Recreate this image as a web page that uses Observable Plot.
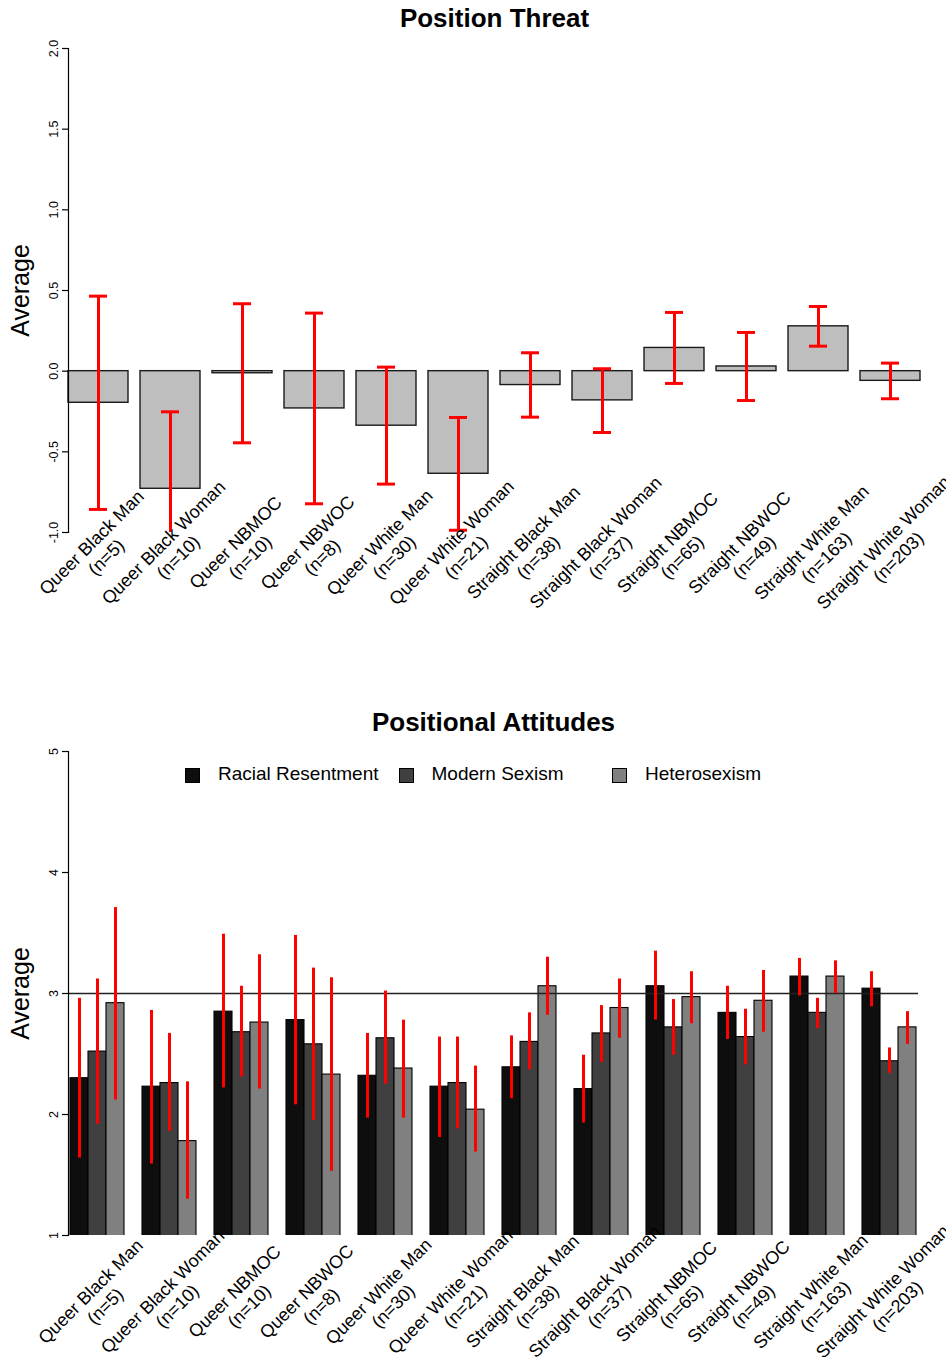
<!DOCTYPE html>
<html>
<head>
<meta charset="utf-8">
<script src="https://cdn.jsdelivr.net/npm/d3@7"></script>
<script src="https://cdn.jsdelivr.net/npm/@observablehq/plot@0.6"></script>
<style>
  html, body { margin: 0; padding: 0; background: #fff; }
  #page { position: relative; width: 946px; height: 1357px; overflow: hidden; background: #fff;
          font-family: "Liberation Sans", Arial, Helvetica, sans-serif; }
  .chart { position: absolute; left: 0; }
  .legend-item { position: absolute; height: 20px; }
  .legend-swatch { position: absolute; left: 0; top: 2px; width: 13px; height: 13px; border: 1.3px solid #000; }
  .legend-label { position: absolute; left: 33px; top: -2px; font-size: 19px; line-height: 19px; white-space: nowrap; color: #000; }
</style>
</head>
<body>
<div id="page">
  <div id="chart1" class="chart" style="top:0px"></div>
  <div id="chart2" class="chart" style="top:678px"></div>
  <div id="legend"></div>
</div>
<script>
// ---------- data ----------
const groups = ["Queer Black Man", "Queer Black Woman", "Queer NBMOC", "Queer NBWOC",
  "Queer White Man", "Queer White Woman", "Straight Black Man", "Straight Black Woman",
  "Straight NBMOC", "Straight NBWOC", "Straight White Man", "Straight White Woman"];
const groupN = [5, 10, 10, 8, 30, 21, 38, 37, 65, 49, 163, 203];

// Position Threat
const threatMean = [-0.196, -0.729, -0.013, -0.231, -0.338, -0.636, -0.086, -0.181, 0.144, 0.029, 0.278, -0.060];
const threatLow  = [-0.857, -1.206, -0.444, -0.822, -0.700, -0.986, -0.285, -0.380, -0.076, -0.182, 0.155, -0.171];
const threatHigh = [ 0.465, -0.252,  0.418,  0.360,  0.025, -0.287,  0.114,  0.015,  0.364,  0.240, 0.401,  0.050];
const threatTicks = [-1, -0.5, 0, 0.5, 1, 1.5, 2];

// Positional Attitudes
const seriesNames = ["Racial Resentment", "Modern Sexism", "Heterosexism"];
const seriesColors = ["#0e0e0e", "#404040", "#808080"];
const rrMean = [2.30, 2.23, 2.85, 2.78, 2.32, 2.23, 2.39, 2.21, 3.06, 2.84, 3.14, 3.04];
const rrLow  = [1.64, 1.59, 2.22, 2.08, 1.97, 1.81, 2.13, 1.93, 2.78, 2.62, 2.98, 2.89];
const rrHigh = [2.96, 2.86, 3.49, 3.48, 2.67, 2.64, 2.65, 2.49, 3.35, 3.06, 3.29, 3.18];
const msMean = [2.52, 2.26, 2.68, 2.58, 2.63, 2.26, 2.60, 2.67, 2.72, 2.64, 2.84, 2.44];
const msLow  = [1.92, 1.86, 2.31, 1.95, 2.25, 1.88, 2.37, 2.43, 2.49, 2.41, 2.71, 2.34];
const msHigh = [3.12, 2.67, 3.06, 3.21, 3.02, 2.64, 2.84, 2.90, 2.95, 2.87, 2.96, 2.55];
const hsMean = [2.92, 1.78, 2.76, 2.33, 2.38, 2.04, 3.06, 2.88, 2.97, 2.94, 3.14, 2.72];
const hsLow  = [2.12, 1.30, 2.21, 1.53, 1.97, 1.69, 2.82, 2.63, 2.75, 2.68, 3.00, 2.58];
const hsHigh = [3.71, 2.27, 3.32, 3.13, 2.78, 2.40, 3.30, 3.12, 3.18, 3.19, 3.27, 2.85];
const attitudeTicks = [1, 2, 3, 4, 5];
const referenceLine = [3];

// ---------- build tables ----------
const font = '"Liberation Sans", Arial, Helvetica, sans-serif';
const labelOf = (g, i) => `${g}\n(n=${groupN[i]})`;

const threat = groups.map((g, i) => ({
  group: g, label: labelOf(g, i), mean: threatMean[i], low: threatLow[i], high: threatHigh[i]
}));

const seriesMeans = [rrMean, msMean, hsMean];
const seriesLows = [rrLow, msLow, hsLow];
const seriesHighs = [rrHigh, msHigh, hsHigh];
const attitudes = [];
groups.forEach((g, i) => seriesNames.forEach((s, j) => attitudes.push({
  group: g, series: s, key: g + "|" + s,
  mean: seriesMeans[j][i], low: seriesLows[j][i], high: seriesHighs[j][i]
})));
// slots: three bars per group, one empty slot between groups (like R's beside=TRUE spacing)
const slotDomain = groups.flatMap((g, i) => [
  ...seriesNames.map(s => g + "|" + s),
  ...(i < groups.length - 1 ? [g + "|gap"] : [])
]);
const groupLabels = groups.map((g, i) => ({key: g + "|" + seriesNames[1], label: labelOf(g, i)}));

// ---------- chart 1 ----------
const chart1 = Plot.plot({
  width: 946, height: 678,
  marginTop: 48, marginBottom: 146, marginLeft: 68, marginRight: 26,
  style: {fontFamily: font, background: "white", overflow: "visible", color: "black"},
  x: {domain: groups, paddingInner: 1 / 6, paddingOuter: 0, axis: null},
  y: {domain: [-1, 2], axis: null},
  marks: [
    Plot.barY(threat, {x: "group", y: "mean", fill: "#bebebe", stroke: "#1a1a1a", strokeWidth: 1.4}),
    Plot.ruleX(threat, {x: "group", y1: "low", y2: "high", stroke: "red", strokeWidth: 3, clip: true}),
    Plot.tickY(threat, {x: "group", y: "low", stroke: "red", strokeWidth: 3, insetLeft: 21, insetRight: 21, clip: true}),
    Plot.tickY(threat, {x: "group", y: "high", stroke: "red", strokeWidth: 3, insetLeft: 21, insetRight: 21, clip: true}),
    Plot.frame({anchor: "left", stroke: "black", strokeWidth: 1.2}),
    Plot.axisY({ticks: threatTicks, tickFormat: d => d.toFixed(1), tickSize: 6, tickPadding: 4.5,
      tickRotate: -90, fontSize: 12.5, label: null, strokeWidth: 1.2}),
    Plot.text(["Average"], {frameAnchor: "left", dx: -39.5, rotate: -90, textAnchor: "middle",
      lineAnchor: "bottom", fontSize: 25}),
    Plot.text(threat, {x: "group", text: "label", frameAnchor: "bottom", dy: 17, rotate: -45,
      textAnchor: "middle", lineAnchor: "middle", lineHeight: 1.15, fontSize: 18}),
    Plot.text(["Position Threat"], {frameAnchor: "top", dy: -21.3, lineAnchor: "bottom",
      fontSize: 26, fontWeight: "bold"})
  ]
});
document.getElementById("chart1").appendChild(chart1);

// ---------- chart 2 ----------
const chart2 = Plot.plot({
  width: 946, height: 679,
  marginTop: 73, marginBottom: 122, marginLeft: 68, marginRight: 28,
  style: {fontFamily: font, background: "white", overflow: "visible", color: "black"},
  x: {type: "band", domain: slotDomain, padding: 0, axis: null},
  y: {domain: [1, 5], axis: null},
  color: {domain: seriesNames, range: seriesColors},
  marks: [
    Plot.barY(attitudes, {x: "key", y: "mean", fill: "series", stroke: "black", strokeWidth: 1.1, clip: true}),
    Plot.ruleY(referenceLine, {stroke: "#222", strokeWidth: 1.6}),
    Plot.ruleX(attitudes, {x: "key", y1: "low", y2: "high", stroke: "red", strokeWidth: 3, clip: true}),
    Plot.frame({anchor: "left", stroke: "black", strokeWidth: 1.2}),
    Plot.axisY({ticks: attitudeTicks, tickFormat: d => String(d), tickSize: 6, tickPadding: 4.5,
      tickRotate: -90, fontSize: 12.5, label: null, strokeWidth: 1.2}),
    Plot.text(["Average"], {frameAnchor: "left", dx: -39.5, rotate: -90, textAnchor: "middle",
      lineAnchor: "bottom", fontSize: 25}),
    Plot.text(groupLabels, {x: "key", text: "label", frameAnchor: "bottom", dy: 63, rotate: -45,
      textAnchor: "middle", lineAnchor: "middle", lineHeight: 1.15, fontSize: 18}),
    Plot.text(["Positional Attitudes"], {frameAnchor: "top", dy: -21, lineAnchor: "bottom",
      fontSize: 26, fontWeight: "bold"})
  ]
});
document.getElementById("chart2").appendChild(chart2);

// ---------- legend (R-style horizontal legend inside the plot) ----------
const legend = document.getElementById("legend");
const legendLeft = 185, legendStep = 213.5, legendTop = 766;
seriesNames.forEach((s, j) => {
  const item = document.createElement("div");
  item.className = "legend-item";
  item.style.left = (legendLeft + j * legendStep) + "px";
  item.style.top = legendTop + "px";
  const sw = document.createElement("div");
  sw.className = "legend-swatch";
  sw.style.background = seriesColors[j];
  const lb = document.createElement("div");
  lb.className = "legend-label";
  lb.textContent = s;
  item.appendChild(sw);
  item.appendChild(lb);
  legend.appendChild(item);
});
</script>
</body>
</html>
